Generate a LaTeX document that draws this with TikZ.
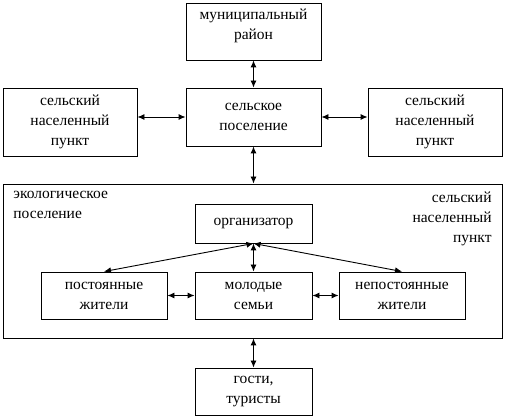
\documentclass[tikz,border=0pt]{standalone}
\usepackage{fontspec}
\setmainfont{Liberation Serif}
\usetikzlibrary{arrows.meta}
\tikzset{sb/.style={draw,align=center,inner sep=2pt,minimum width=117pt,minimum height=47pt},
  lk/.style={{Latex[length=7pt,width=6pt]}-{Latex[length=7pt,width=6pt]}}}

\begin{document}
\begin{tikzpicture}[x=1pt,y=-1pt,font=\fontsize{15.5}{20}\selectfont,line width=0.9pt]
    \useasboundingbox (0,0) rectangle (506,419);
    \node[sb,minimum width=135pt,minimum height=57pt] (mun) at (253.5,31.5) {муниципальный\\район\\[-6pt]};
    \node[sb,minimum width=135pt,minimum height=58pt] (cen) at (253.5,117) {сельское\\поселение};
    \node[sb,minimum width=134pt,minimum height=68pt] (lft) at (70,122) {сельский\\населенный\\пункт};
    \node[sb,minimum width=134pt,minimum height=68pt] (rgt) at (435,122) {сельский\\населенный\\пункт};
    \node[sb,minimum width=499pt,minimum height=154pt] (eco) at (252.5,261) {};
    \node[align=left,anchor=north west,inner sep=0pt] (ecol) at (13,191) {экологическое\\поселение};
    \node[align=right,anchor=north east,inner sep=0pt] (snp) at (492,191) {сельский\\населенный\\пункт};
    \node[sb,minimum height=39pt] (org) at (253.5,223.5) {организатор};
    \node[sb,minimum width=126pt] (pst) at (104,295.5) {постоянные\\жители};
    \node[sb] (mol) at (253.5,295.5) {молодые\\семьи};
    \node[sb,minimum width=126pt] (npst) at (402,295.5) {непостоянные\\жители};
    \node[sb] (gst) at (253.5,391.5) {гости,\\туристы};
    \draw[lk] (mun) -- (cen);
    \draw[lk] (lft.east |- cen) -- (cen.west);
    \draw[lk] (cen.east) -- (rgt.west |- cen);
    \draw[lk] (cen.south) -- (cen.south |- eco.north);
    \draw[lk] (org.south) -- (mol.north);
    \draw[lk] (org.south) -- (pst.north);
    \draw[lk] (org.south) -- (npst.north);
    \draw[lk] (pst) -- (mol);
    \draw[lk] (mol) -- (npst);
    \draw[lk] (gst.north |- eco.south) -- (gst.north);
  \end{tikzpicture}
\end{document}
